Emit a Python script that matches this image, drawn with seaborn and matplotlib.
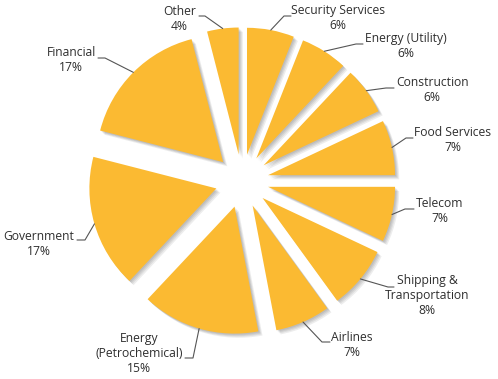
import matplotlib.pyplot as plt
import matplotlib.patheffects as pe
import numpy as np
import seaborn as sns

sectors = ["Security Services", "Energy (Utility)", "Construction", "Food Services",
           "Telecom", "Shipping &\nTransportation", "Airlines",
           "Energy\n(Petrochemical)", "Government", "Financial", "Other"]
shares = [6, 6, 6, 7, 7, 8, 7, 15, 17, 17, 4]

# label layout in pixels (from top-left): text x, text top, alignment,
# leader elbow and leader end next to the text
label_layout = [
    (291, 6, "left", (284, 16), (291, 16)),
    (365, 34, "left", (356, 44), (363, 44)),
    (396, 78, "left", (386, 88), (394, 88)),
    (414, 128, "left", (406, 138), (413, 138)),
    (416, 199, "left", (405, 209), (414, 209)),
    (427, 276, "center", (388, 287), (394, 287)),
    (331, 333, "left", (322, 342), (330, 342)),
    (183, 334, "right", (193, 358), (185, 358)),
    (74, 232, "right", (85, 240), (77, 240)),
    (96, 48, "right", (105, 58), (98, 58)),
    (196, 7, "right", (205, 16), (199, 16)),
]

W, H = 498, 379
CX, CY, R = 242, 181, 127
EXPLODE = 0.21
YELLOW = "#FBBA32"
TEXT = "#2f2f2f"


def px(x, y):
    return (x - CX) / R, (CY - y) / R


sns.set_theme(style="white")
plt.rcParams["font.family"] = ["Open Sans", "DejaVu Sans"]

fig = plt.figure(figsize=(W / 100, H / 100), dpi=100)
ax = fig.add_axes([0, 0, 1, 1])

shadow = [pe.SimplePatchShadow(offset=(o, -o), shadow_rgbFace="black", alpha=0.07)
          for o in (0.8, 1.5, 2.2, 3.0)] + [pe.Normal()]

wedges, _ = ax.pie(shares, startangle=90, counterclock=False,
                   explode=[EXPLODE] * len(shares), colors=[YELLOW] * len(shares),
                   wedgeprops=dict(linewidth=0, path_effects=shadow))

for w, name, pct, (tx, ty, ha, elbow, end) in zip(wedges, sectors, shares, label_layout):
    mid = np.deg2rad((w.theta1 + w.theta2) / 2)
    start = ((1 + EXPLODE) * np.cos(mid), (1 + EXPLODE) * np.sin(mid))
    pts = [start, px(*elbow), px(*end)]
    ax.plot([p[0] for p in pts], [p[1] for p in pts], color="#555555", lw=0.8)
    ax.text(*px(tx, ty - 2), f"{name}\n{pct}%", ha=ha, va="top",
            multialignment="center", fontsize=8.75, color=TEXT, linespacing=1.22)

ax.set_aspect("auto")
ax.set_xlim((0 - CX) / R, (W - CX) / R)
ax.set_ylim((CY - H) / R, CY / R)
ax.axis("off")

fig.savefig("out.png", dpi=100)
